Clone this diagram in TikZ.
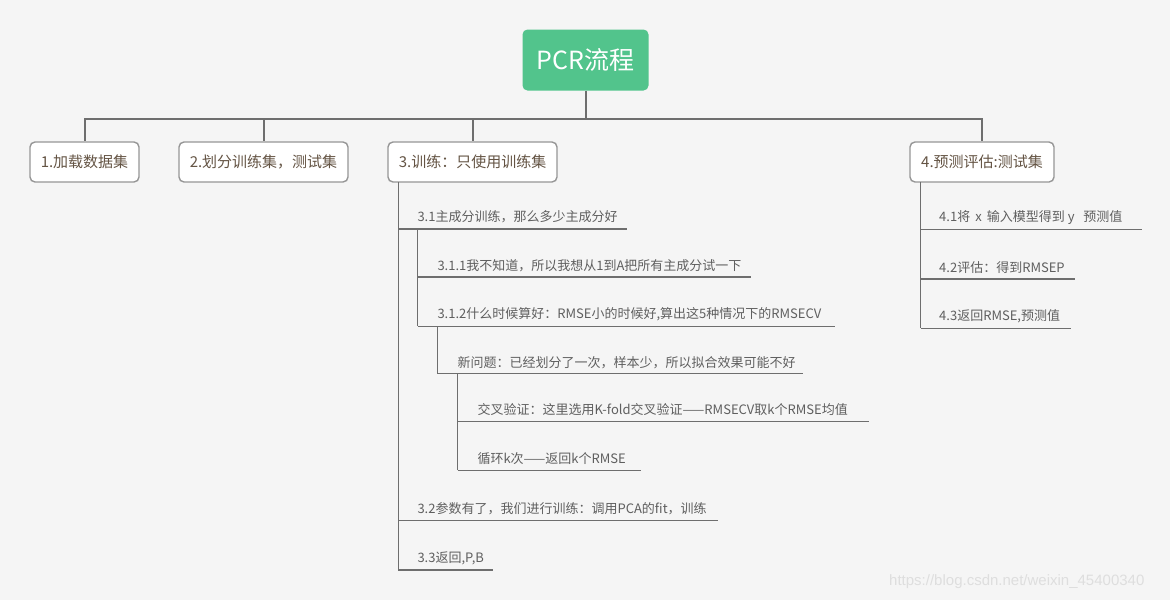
\documentclass[tikz,border=0pt]{standalone}
\usepackage{fontspec}
\setmainfont{Noto Sans CJK SC}
\newfontfamily\wmfont{Liberation Sans}
\definecolor{bgc}{RGB}{245,245,245}
\definecolor{rootgreen}{RGB}{82,196,140}
\definecolor{boxgray}{RGB}{150,150,150}
\definecolor{boxtext}{RGB}{100,84,68}
\definecolor{subtext}{RGB}{95,95,95}
\definecolor{linegray}{RGB}{110,110,110}
\definecolor{wmgray}{RGB}{222,222,222}
\begin{document}
\begin{tikzpicture}[x=1pt,y=-1pt,
  rootbox/.style={fill=rootgreen, rounded corners=5pt, minimum width=126pt, minimum height=61pt, text=white, font=\fontsize{25}{30}\selectfont, inner sep=0pt},
  topic/.style={draw=boxgray, line width=1.4pt, fill=white, rounded corners=5pt, minimum height=40pt, text=boxtext, font=\fontsize{15}{18}\selectfont, inner sep=0pt},
  subitem/.style={anchor=west, text=subtext, font=\fontsize{13}{16}\selectfont, inner sep=0pt},
  trunk/.style={draw=linegray, line width=2pt},
  branch/.style={draw=linegray, line width=1.1pt},
  uline/.style={draw=linegray, line width=1.3pt}]
\fill[bgc] (0,0) rectangle (1170,600);
\useasboundingbox (0,0) rectangle (1170,600);

% root and topics
\node[rootbox] (root) at (585.5,60) {PCR流程};
\node[topic, minimum width=109pt] (b1) at (84.5,162) {1.加载数据集};
\node[topic, minimum width=169pt] (b2) at (263.5,162) {2.划分训练集，测试集};
\node[topic, minimum width=169pt] (b3) at (472.5,162) {3.训练：只使用训练集};
\node[topic, minimum width=144pt] (b4) at (982,162) {4.预测评估:测试集};

\coordinate (hub) at (585.5,119);
\draw[trunk] (root.south) -- (hub);
\draw[trunk] (hub) -| (b1.north);
\draw[trunk] (hub) -| (b2.north);
\draw[trunk] (hub) -| (b3.north);
\draw[trunk] (hub) -| (b4.north);

% subtree of 3
\node[subitem] (s31) at (417.3,216.7) {3.1主成分训练，那么多少主成分好};
\node[subitem] (s311) at (437.3,265.7) {3.1.1我不知道，所以我想从1到A把所有主成分试一下};
\node[subitem] (s312) at (437.3,314) {3.1.2什么时候算好：RMSE小的时候好,算出这5种情况下的RMSECV};
\node[subitem] (snew) at (457.3,362.3) {新问题：已经划分了一次，样本少，所以拟合效果可能不好};
\node[subitem] (scv) at (477.3,409.3) {交叉验证：这里选用K-fold交叉验证——RMSECV取k个RMSE均值};
\node[subitem] (sloop) at (477.3,459) {循环k次——返回k个RMSE};
\node[subitem] (s32) at (417.3,508.3) {3.2参数有了，我们进行训练：调用PCA的fit，训练};
\node[subitem] (s33) at (417.3,558.3) {3.3返回,P,B};

\coordinate (v1top) at (398.3,182);
\coordinate (v1bot) at (398.3,570);
\draw[branch] (v1top) -- (v1bot);
\coordinate (u31a) at (398.3,229);   \coordinate (u31b) at (626.7,229);
\coordinate (u32a) at (398.3,520.3); \coordinate (u32b) at (717.7,520.3);
\coordinate (u33a) at (398.3,570);   \coordinate (u33b) at (493.3,570);
\draw[uline] (u31a) -- (u31b);
\draw[uline] (u32a) -- (u32b);
\draw[uline] (u33a) -- (u33b);

\coordinate (v2top) at (417.7,229);
\coordinate (v2bot) at (417.7,326.3);
\draw[branch] (v2top) -- (v2bot);
\coordinate (u311a) at (417.7,277);   \coordinate (u311b) at (751,277);
\coordinate (u312a) at (417.7,326.3); \coordinate (u312b) at (835,326.3);
\draw[uline] (u311a) -- (u311b);
\draw[uline] (u312a) -- (u312b);

\coordinate (v3top) at (437.7,326.3);
\coordinate (v3bot) at (437.7,373.7);
\draw[branch] (v3top) -- (v3bot);
\coordinate (unewa) at (437.7,373.7); \coordinate (unewb) at (803,373.7);
\draw[uline] (unewa) -- (unewb);

\coordinate (v4top) at (457.7,373.7);
\coordinate (v4bot) at (457.7,470.3);
\draw[branch] (v4top) -- (v4bot);
\coordinate (ucva) at (457.7,421.7);   \coordinate (ucvb) at (869,421.7);
\coordinate (uloopa) at (457.7,470.3); \coordinate (uloopb) at (641,470.3);
\draw[uline] (ucva) -- (ucvb);
\draw[uline] (uloopa) -- (uloopb);

% subtree of 4
\node[subitem] (s41) at (939,217.7) {4.1将 \,x\, 输入模型得到 y \ \ 预测值};
\node[subitem] (s42) at (939,267.3) {4.2评估：得到RMSEP};
\node[subitem] (s43) at (939,316) {4.3返回RMSE,预测值};
\coordinate (w1top) at (920.7,182);
\coordinate (w1bot) at (920.7,328.3);
\draw[branch] (w1top) -- (w1bot);
\coordinate (u41a) at (920.7,229.3); \coordinate (u41b) at (1141.7,229.3);
\coordinate (u42a) at (920.7,279);   \coordinate (u42b) at (1075,279);
\coordinate (u43a) at (920.7,328.3); \coordinate (u43b) at (1070.7,328.3);
\draw[uline] (u41a) -- (u41b);
\draw[uline] (u42a) -- (u42b);
\draw[uline] (u43a) -- (u43b);

% watermark
\node[anchor=west, inner sep=0pt, text=wmgray, font=\wmfont\fontsize{15}{18}\selectfont] (wm) at (889,582) {https://blog.csdn.net/weixin\_45400340};
\end{tikzpicture}
\end{document}
